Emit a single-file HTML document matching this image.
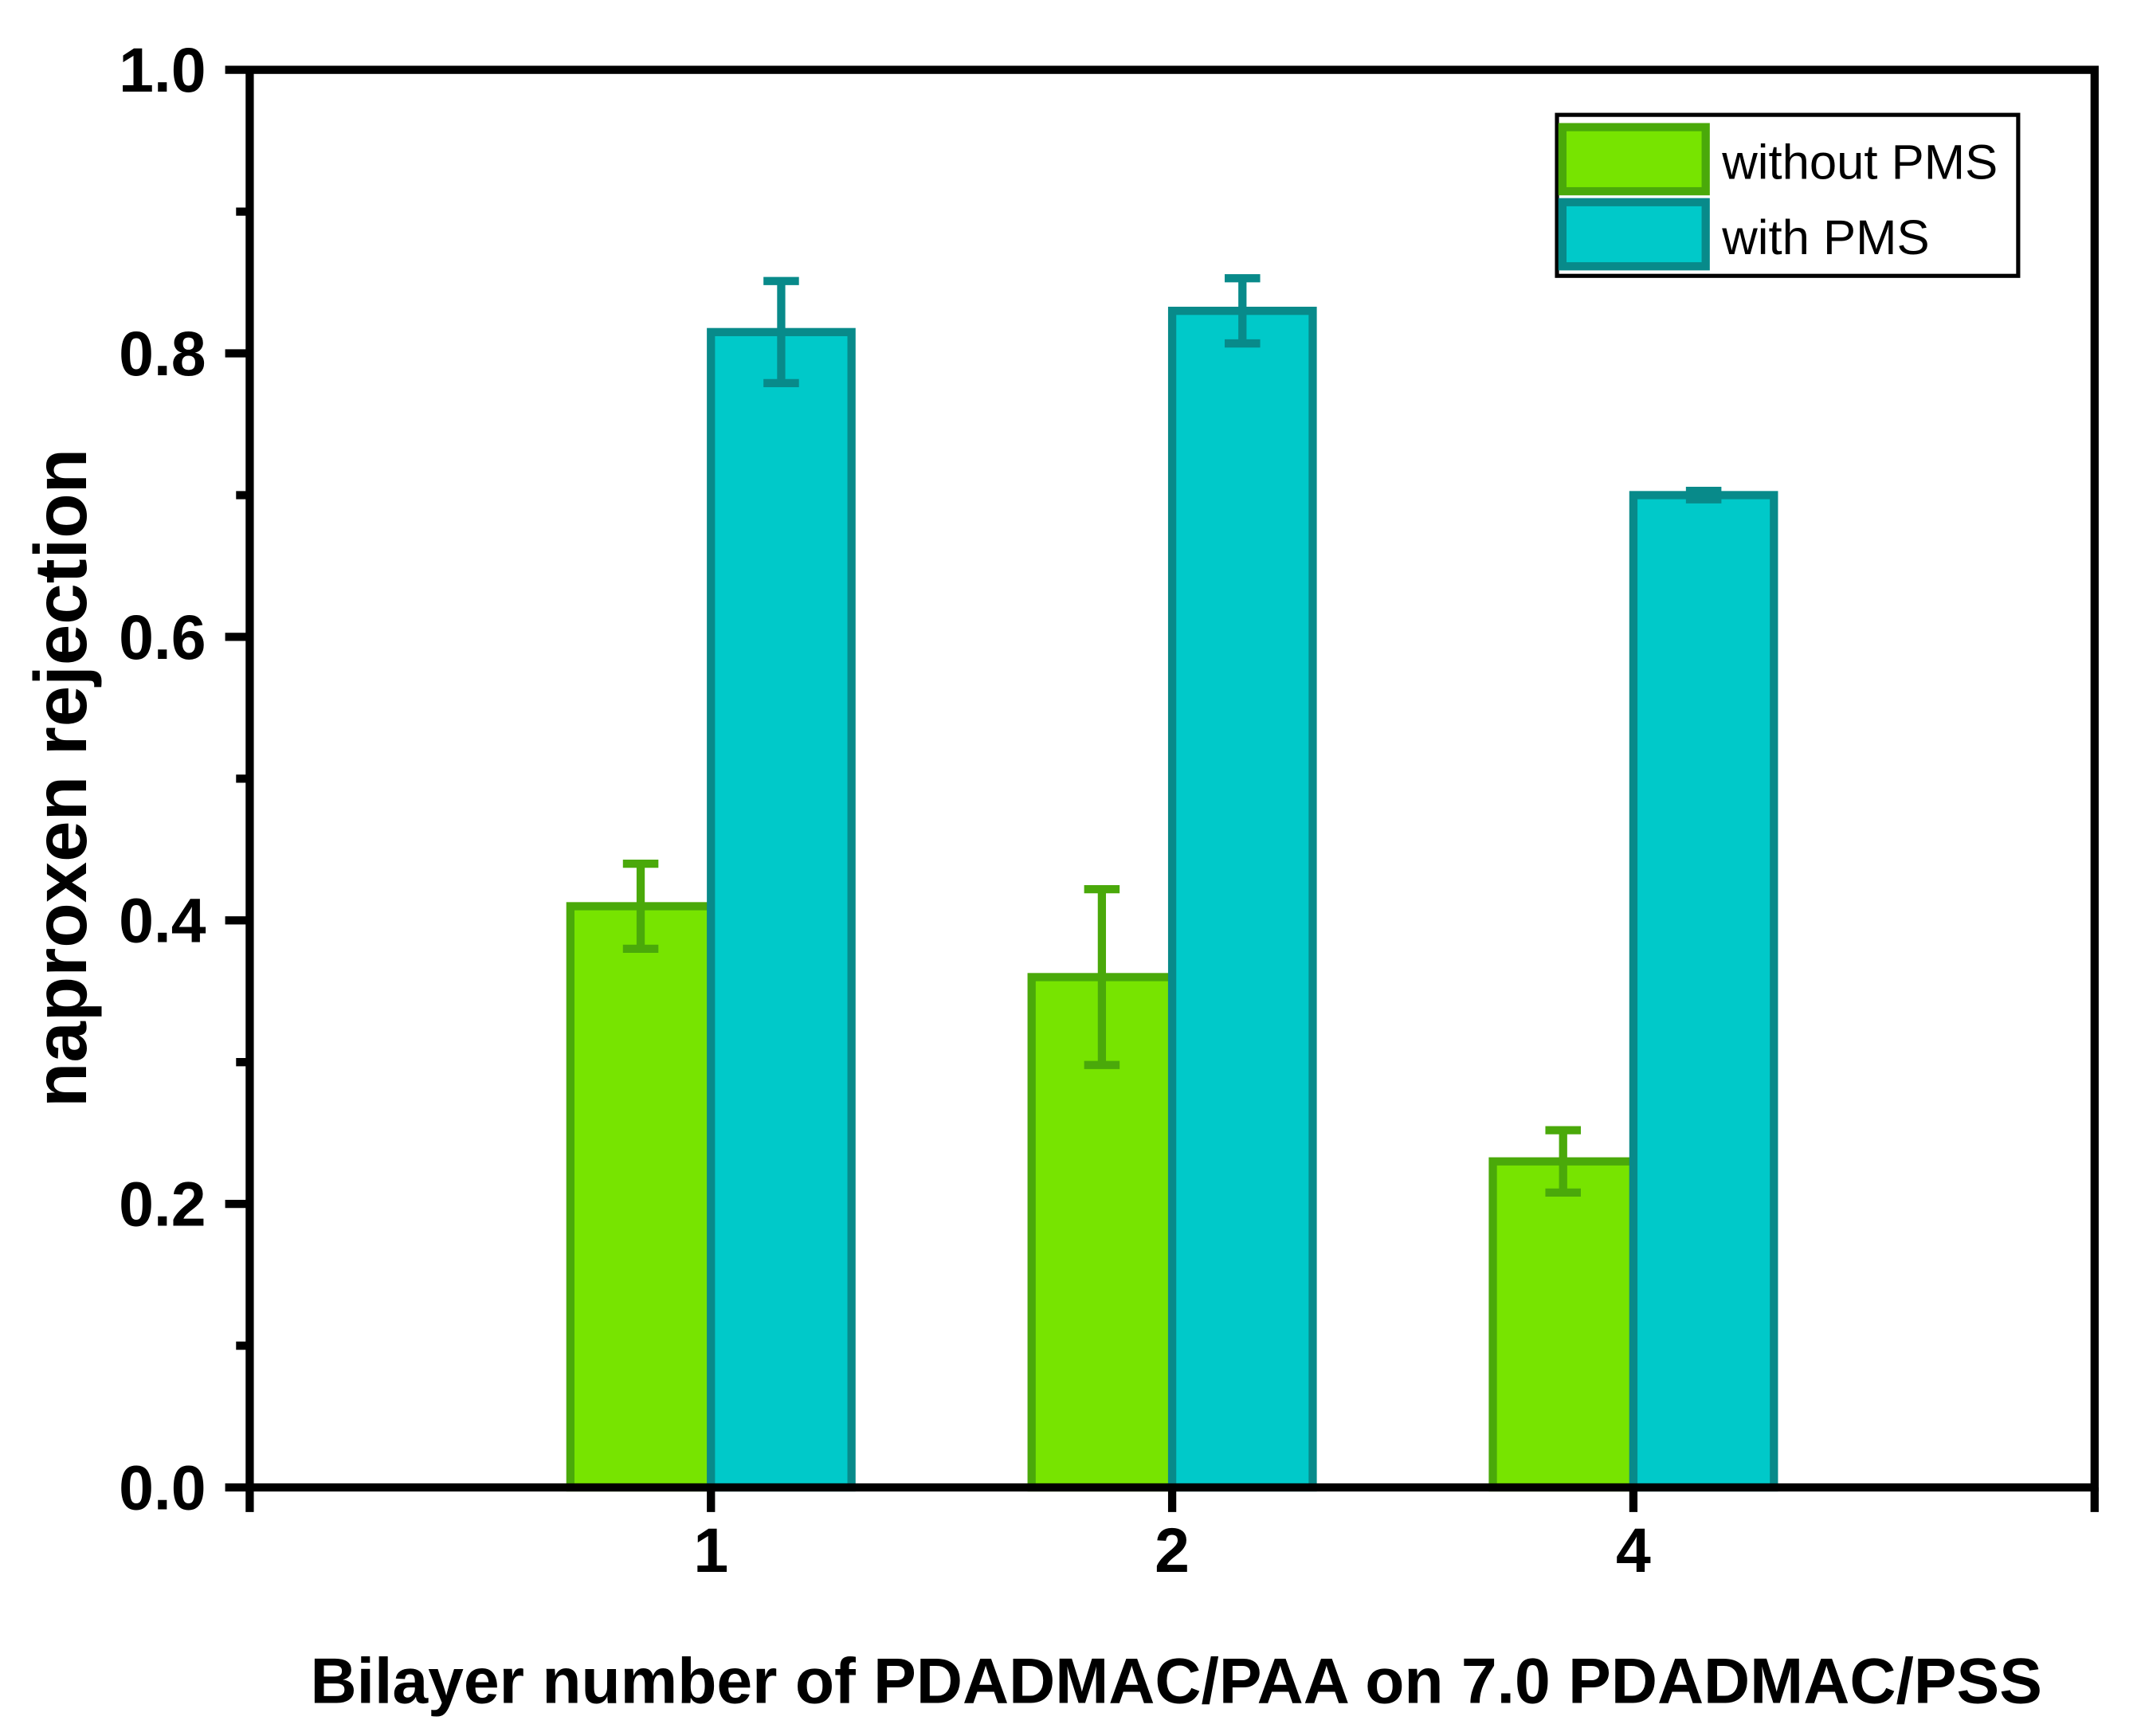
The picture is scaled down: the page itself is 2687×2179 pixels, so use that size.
<!DOCTYPE html>
<html><head><meta charset="utf-8"><style>
html,body{margin:0;padding:0;background:#fff;}
svg{display:block;}
text{font-family:"Liberation Sans",Arial,sans-serif;font-weight:bold;fill:#000;}
</style></head><body>
<svg id="chart" width="2687" height="2179" viewBox="0 0 1569 1272" xmlns="http://www.w3.org/2000/svg">
<g id="plot"></g>
</svg>
<script>
const categories = ["1","2","4"];
const withoutPMS = [0.41, 0.36, 0.23];
const withoutErr = [0.03, 0.062, 0.022];
const withPMS = [0.815, 0.83, 0.70];
const withErr = [0.036, 0.023, 0.003];
const yTicks = ["0.0","0.2","0.4","0.6","0.8","1.0"];

const NS="http://www.w3.org/2000/svg";
const g=document.getElementById('plot');
const L=183,R=1535,T=51,B=1090;
function y(v){return B-(v/1.0)*(B-T);}
function xc(i){return L+(i+1)*(R-L)/(categories.length+1);}
const BW=103;
function mk(tag,attrs){const e=document.createElementNS(NS,tag);for(const k in attrs)e.setAttribute(k,attrs[k]);g.appendChild(e);return e;}

function bar(xl,v,err,fill,stroke,name){
  const r=mk('rect',{x:xl,y:y(v),width:BW,height:B-y(v),fill:fill,stroke:stroke,'stroke-width':6});
  
  
  const cx=xl+BW/2;
  const e=mk('path',{d:`M${cx} ${y(v+err)}V${y(v-err)}M${cx-13} ${y(v+err)}H${cx+13}M${cx-13} ${y(v-err)}H${cx+13}`,stroke:stroke,'stroke-width':6,fill:'none'});
  
  
}
categories.forEach((c,i)=>{
  const cx=xc(i);
  bar(cx-BW,withoutPMS[i],withoutErr[i],'#77e400','#4aa90a','bar-without-pms-'+c);
  bar(cx,withPMS[i],withErr[i],'#00c9c9','#088a8a','bar-with-pms-'+c);
  const t=mk('text',{x:cx,y:1152,'font-size':46,'text-anchor':'middle'});t.textContent=c;
  
  
});
const f=mk('rect',{x:L,y:T,width:R-L,height:B-T,fill:'none',stroke:'#000','stroke-width':6});


let d='';
yTicks.forEach((lab,i)=>{
  const v=parseFloat(lab);
  d+=`M${L-18} ${y(v)}H${L}`;
  const t=mk('text',{x:L-32,y:y(v)+16,'font-size':46,'text-anchor':'end'});t.textContent=lab;
  
  
  if(i<yTicks.length-1){d+=`M${L-10} ${y(v+0.1)}H${L}`;}
});
for(let i=0;i<=categories.length+1;i++){d+=`M${L+i*(R-L)/(categories.length+1)} ${B}V${B+18}`;}
const tk=mk('path',{d:d,stroke:'#000','stroke-width':6,fill:'none'});



const xt=mk('text',{x:862,y:1248,'font-size':47,'text-anchor':'middle'});xt.textContent='Bilayer number of PDADMAC/PAA on 7.0 PDADMAC/PSS';


const yt=mk('text',{x:0,y:0,'font-size':54,'text-anchor':'middle',transform:'translate(63 570) rotate(-90)'});yt.textContent='naproxen rejection';



const lb=mk('rect',{x:1141,y:84,width:338,height:118,fill:'#fff',stroke:'#000','stroke-width':3});


const s1=mk('rect',{x:1145,y:93,width:105,height:47,fill:'#77e400',stroke:'#4aa90a','stroke-width':6});


const s2=mk('rect',{x:1145,y:148,width:105,height:47,fill:'#00c9c9',stroke:'#088a8a','stroke-width':6});


const l1=mk('text',{x:1262,y:131,'font-size':36,style:'font-weight:normal'});l1.textContent='without PMS';


const l2=mk('text',{x:1262,y:186,'font-size':36,style:'font-weight:normal'});l2.textContent='with PMS';


</script>
</body></html>
